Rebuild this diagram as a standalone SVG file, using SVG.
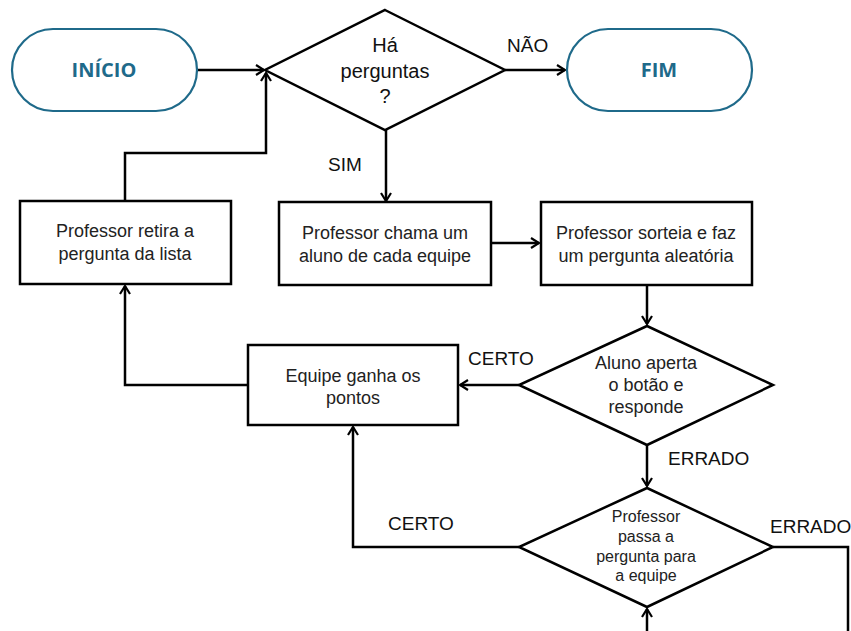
<svg xmlns="http://www.w3.org/2000/svg" width="851" height="631" viewBox="0 0 851 631">
<defs>
<marker id="ah" viewBox="0 0 12 12" refX="10" refY="6" markerWidth="12" markerHeight="12" markerUnits="userSpaceOnUse" orient="auto">
<path d="M2,1 L10,6 L2,11" fill="none" stroke="#000" stroke-width="2.2"/>
</marker>
<style>
.term{fill:#fff;stroke:#1f6a8a;stroke-width:2.2}
.tt{font-family:"Open Sans","Noto Sans",sans-serif;font-weight:bold;font-size:20px;fill:#1f6a8a;text-anchor:middle}
.box{fill:#fff;stroke:#000;stroke-width:2.5}
.bt{font-family:"Liberation Sans",Arial,sans-serif;font-size:18px;fill:#222;text-anchor:middle}
.dt{font-family:"Liberation Sans",Arial,sans-serif;font-size:16px;fill:#222;text-anchor:middle}
.lb{font-family:"Liberation Sans",Arial,sans-serif;font-size:19px;fill:#111}
.c{fill:none;stroke:#000;stroke-width:2.5}
</style>
</defs>
<rect width="851" height="631" fill="#fff"/>
<g id="connectors">
<path class="c" d="M197,70 L264,70" marker-end="url(#ah)"/>
<path class="c" d="M125,200 L125,153 L266,153 L266,73" marker-end="url(#ah)"/>
<path class="c" d="M505,70 L565,70" marker-end="url(#ah)"/>
<path class="c" d="M386,130 L386,201" marker-end="url(#ah)"/>
<path class="c" d="M491,243 L539,243" marker-end="url(#ah)"/>
<path class="c" d="M647,285 L647,324" marker-end="url(#ah)"/>
<path class="c" d="M519,385 L460,385" marker-end="url(#ah)"/>
<path class="c" d="M647,445 L647,486" marker-end="url(#ah)"/>
<path class="c" d="M519,547 L353,547 L353,427" marker-end="url(#ah)"/>
<path class="c" d="M773,547 L848,547 L848,631"/>
<path class="c" d="M647,631 L647,609" marker-end="url(#ah)"/>
<path class="c" d="M248,385 L125,385 L125,286" marker-end="url(#ah)"/>
<text class="lb" x="507" y="52">NÃO</text>
<text class="lb" x="328" y="171">SIM</text>
<text class="lb" x="468" y="365">CERTO</text>
<text class="lb" x="668" y="465">ERRADO</text>
<text class="lb" x="388" y="530">CERTO</text>
<text class="lb" x="770" y="533">ERRADO</text>
</g>
<g id="inicio">
<rect class="term" x="12" y="29" width="185" height="82" rx="41"/>
<text class="tt" x="104" y="77">INÍCIO</text>
</g>
<g id="fim">
<rect class="term" x="567" y="29" width="185" height="82" rx="41"/>
<text class="tt" x="659" y="77">FIM</text>
</g>
<g id="decisao1">
<polygon class="box" points="385,10 505,70 385,130 265,70"/>
<text class="lb" style="font-size:20px" text-anchor="middle" x="385" y="52">Há</text>
<text class="lb" style="font-size:20px" text-anchor="middle" x="385" y="78">perguntas</text>
<text class="lb" style="font-size:20px" text-anchor="middle" x="385" y="103">?</text>
</g>
<g id="retira">
<rect class="box" x="20" y="201" width="211" height="83"/>
<text class="bt" x="125" y="237">Professor retira a</text>
<text class="bt" x="125" y="260">pergunta da lista</text>
</g>
<g id="chama">
<rect class="box" x="279" y="202" width="212" height="83"/>
<text class="bt" x="385" y="239">Professor chama um</text>
<text class="bt" x="385" y="262">aluno de cada equipe</text>
</g>
<g id="sorteia">
<rect class="box" x="541" y="202" width="211" height="83"/>
<text class="bt" x="646" y="239">Professor sorteia e faz</text>
<text class="bt" x="646" y="262">um pergunta aleatória</text>
</g>
<g id="decisao2">
<polygon class="box" points="647,326 773,385 647,445 519,385"/>
<text class="bt" x="646" y="369">Aluno aperta</text>
<text class="bt" x="646" y="391">o botão e</text>
<text class="bt" x="646" y="413">responde</text>
</g>
<g id="equipe">
<rect class="box" x="248" y="345" width="210" height="80"/>
<text class="bt" x="353" y="382">Equipe ganha os</text>
<text class="bt" x="353" y="404">pontos</text>
</g>
<g id="decisao3">
<polygon class="box" points="647,488 773,547 647,607 519,547"/>
<text class="dt" x="646" y="522">Professor</text>
<text class="dt" x="646" y="542">passa a</text>
<text class="dt" x="646" y="562">pergunta para</text>
<text class="dt" x="646" y="581">a equipe</text>
</g>
</svg>
